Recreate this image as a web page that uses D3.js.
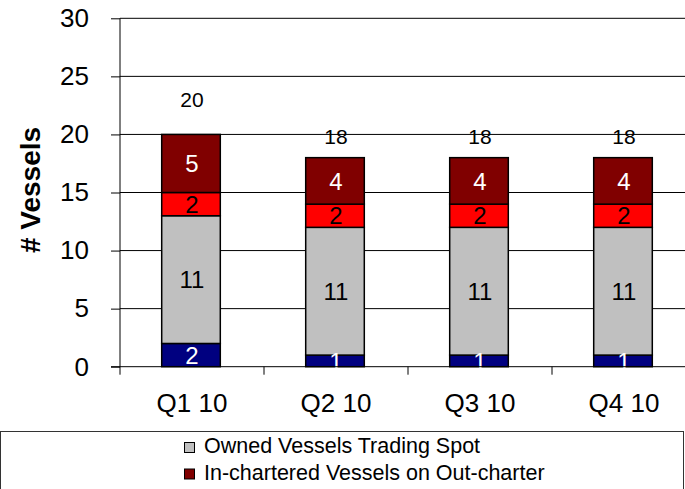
<!DOCTYPE html>
<html>
<head>
<meta charset="utf-8">
<script src="https://cdn.jsdelivr.net/npm/d3@7"></script>
<style>
  body { margin: 0; background: #fff; }
  text { font-family: "Liberation Sans", Arial, sans-serif; }
</style>
</head>
<body>
<script>
const width = 685;
const height = 489;

// data
const categories = ['Q1 10', 'Q2 10', 'Q3 10', 'Q4 10'];
const seriesNames = [
  'Owned Vessels on Time-charter',
  'Owned Vessels Trading Spot',
  'In-chartered Vessels Trading Spot',
  'In-chartered Vessels on Out-charter'
];
const ownedTc = [2, 1, 1, 1];
const ownedSpot = [11, 11, 11, 11];
const inSpot = [2, 2, 2, 2];
const inOut = [5, 4, 4, 4];
const totals = [20, 18, 18, 18];
const yTicks = [0, 5, 10, 15, 20, 25, 30];
const legendShown = [1, 3];

const colors = ['#000080', '#c0c0c0', '#ff0000', '#800000'];
const labelColors = ['#fff', '#000', '#000', '#fff'];
// the Q1 total sits higher than the others in the original
const totalLift = [35, 21, 21, 21];

const rows = categories.map((c, i) => ({
  cat: c,
  s0: ownedTc[i], s1: ownedSpot[i], s2: inSpot[i], s3: inOut[i]
}));

const stack = d3.stack().keys(['s0', 's1', 's2', 's3']);
const layers = stack(rows);

const x = d3.scaleBand()
  .domain(categories)
  .range([120, 696])
  .padding(0);

const y = d3.scaleLinear()
  .domain([0, 30])
  .range([366.7, 18.3]);

const barW = 58.6;
const barX = c => x(c) + x.bandwidth() / 2 - barW / 2 - 1;

const svg = d3.select('body').append('svg')
  .attr('width', width)
  .attr('height', height);

// gridlines
svg.append('g')
  .selectAll('line')
  .data(yTicks.filter(d => d > 0))
  .join('line')
    .attr('x1', 120).attr('x2', width)
    .attr('y1', d => y(d)).attr('y2', d => y(d))
    .attr('stroke', '#000')
    .attr('stroke-width', 1);

// y axis
const yAxis = svg.append('g')
  .attr('transform', 'translate(120,0)')
  .call(d3.axisLeft(y).tickValues(yTicks).tickSize(9).tickPadding(22));
yAxis.select('.domain').remove();
yAxis.selectAll('.tick line').attr('stroke', '#000');
yAxis.selectAll('.tick text')
  .attr('font-size', '26px')
  .attr('font-family', '"Liberation Sans", Arial, sans-serif')
  .attr('fill', '#000');

svg.append('line')
  .attr('x1', 120).attr('x2', 120)
  .attr('y1', y(30)).attr('y2', y(0) + 8)
  .attr('stroke', '#000');

// bars
const layerG = svg.append('g')
  .selectAll('g')
  .data(layers)
  .join('g')
    .attr('fill', (d, i) => colors[i]);

layerG.selectAll('rect')
  .data(d => d)
  .join('rect')
    .attr('x', d => barX(d.data.cat))
    .attr('y', d => y(d[1]))
    .attr('width', barW)
    .attr('height', d => y(d[0]) - y(d[1]))
    .attr('stroke', '#000')
    .attr('stroke-width', 1.5);

// segment labels
svg.append('g')
  .selectAll('g')
  .data(layers)
  .join('g')
    .attr('fill', (d, i) => labelColors[i])
  .selectAll('text')
  .data(d => d)
  .join('text')
    .attr('x', d => x(d.data.cat) + x.bandwidth() / 2)
    .attr('y', d => y((d[0] + d[1]) / 2))
    .attr('dy', '0.36em')
    .attr('text-anchor', 'middle')
    .attr('font-size', '24px')
    .text(d => d[1] - d[0]);

// totals
svg.append('g')
  .selectAll('text')
  .data(totals)
  .join('text')
    .attr('x', (d, i) => x(categories[i]) + x.bandwidth() / 2)
    .attr('y', (d, i) => y(d) - totalLift[i])
    .attr('dy', '0.36em')
    .attr('text-anchor', 'middle')
    .attr('font-size', '21px')
    .attr('fill', '#000')
    .text(d => d);

// x axis
svg.append('line')
  .attr('x1', 111).attr('x2', width)
  .attr('y1', y(0)).attr('y2', y(0))
  .attr('stroke', '#000');

svg.append('g')
  .selectAll('line')
  .data(categories.slice(1))
  .join('line')
    .attr('x1', d => x(d)).attr('x2', d => x(d))
    .attr('y1', y(0)).attr('y2', y(0) + 8)
    .attr('stroke', '#000');

svg.append('g')
  .selectAll('text')
  .data(categories)
  .join('text')
    .attr('x', d => x(d) + x.bandwidth() / 2)
    .attr('y', 412)
    .attr('text-anchor', 'middle')
    .attr('font-size', '26px')
    .attr('fill', '#000')
    .text(d => d);

// y title
svg.append('text')
  .attr('transform', 'translate(40,190) rotate(-90)')
  .attr('text-anchor', 'middle')
  .attr('font-size', '28px')
  .attr('font-weight', 'bold')
  .text('# Vessels');

// legend (box runs off the bottom of the picture)
svg.append('rect')
  .attr('x', 0.5).attr('y', 431.5)
  .attr('width', 683).attr('height', 80)
  .attr('fill', '#fff')
  .attr('stroke', '#333');

const legend = svg.append('g')
  .selectAll('g')
  .data(legendShown)
  .join('g')
    .attr('transform', (d, i) => `translate(184, ${442 + i * 26.5})`);

legend.append('rect')
  .attr('x', 0.5).attr('y', 0.5)
  .attr('width', 10).attr('height', 10)
  .attr('fill', d => colors[d])
  .attr('stroke', '#000');

legend.append('text')
  .attr('x', 20)
  .attr('y', 11)
  .attr('font-size', '21.5px')
  .attr('fill', '#000')
  .text(d => seriesNames[d]);
</script>
</body>
</html>
